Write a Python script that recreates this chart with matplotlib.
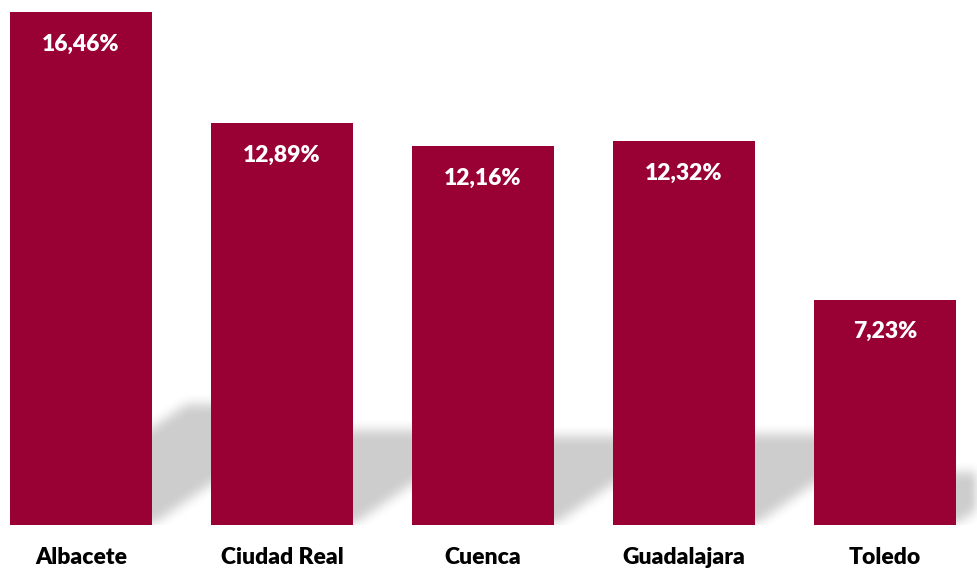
import numpy as np
import matplotlib.pyplot as plt
from matplotlib.path import Path

provincias = ["Albacete", "Ciudad Real", "Cuenca", "Guadalajara", "Toledo"]
valores = [16.46, 12.89, 12.16, 12.32, 7.23]
etiquetas = ["16,46%", "12,89%", "12,16%", "12,32%", "7,23%"]

color_barra = "#990033"
ancho = 0.706

fig = plt.figure(figsize=(9.78, 5.69), dpi=100)
ax = fig.add_axes([0, 44 / 569, 1, 525 / 569])
x = np.arange(len(provincias))
xlim = (-81 / 201, (978 - 81) / 201)
ylim = (0, 16.84)
ax.set_xlim(*xlim)
ax.set_ylim(*ylim)

# perspective shadow behind each bar, rasterised and softened
nx, ny = 978, 525
gx = np.linspace(xlim[0], xlim[1], nx)
gy = np.linspace(ylim[0], ylim[1], ny)
GX, GY = np.meshgrid(gx, gy)
pts = np.column_stack([GX.ravel(), GY.ravel()])
mask = np.zeros(GX.size)
for xi, v in zip(x, valores):
    x0, x1 = xi - ancho / 2, xi + ancho / 2
    dx, dy = 0.0532 * v, 0.235 * v
    poly = Path([(x0, 0), (x1, 0), (x1 + dx, dy), (x0 + dx, dy), (x0, 0)])
    mask = np.maximum(mask, poly.contains_points(pts).astype(float))
mask = mask.reshape(ny, nx)
k = np.ones(13) / 13
for _ in range(2):
    mask = np.apply_along_axis(lambda r: np.convolve(r, k, mode="same"), 1, mask)
    mask = np.apply_along_axis(lambda c: np.convolve(c, k, mode="same"), 0, mask)
img = np.zeros((ny, nx, 4))
img[..., 3] = mask * 0.2
ax.imshow(img, origin="lower", extent=(xlim[0], xlim[1], ylim[0], ylim[1]),
          aspect="auto", zorder=1, interpolation="bilinear")

bars = ax.bar(x, valores, width=ancho, color=color_barra, zorder=2)

for xi, v, lab in zip(x, valores, etiquetas):
    ax.text(xi, v - 1.03, lab, ha="center", va="center", color="white",
            fontsize=16.5, fontweight="heavy", family="Lato", zorder=3)

ax.set_xticks(x)
ax.set_xticklabels(provincias, fontsize=16.5, fontweight="heavy", family="Lato")
ax.tick_params(axis="x", length=0, pad=16)
ax.set_yticks([])
for s in ax.spines.values():
    s.set_visible(False)

fig.savefig("out.png", dpi=100)
